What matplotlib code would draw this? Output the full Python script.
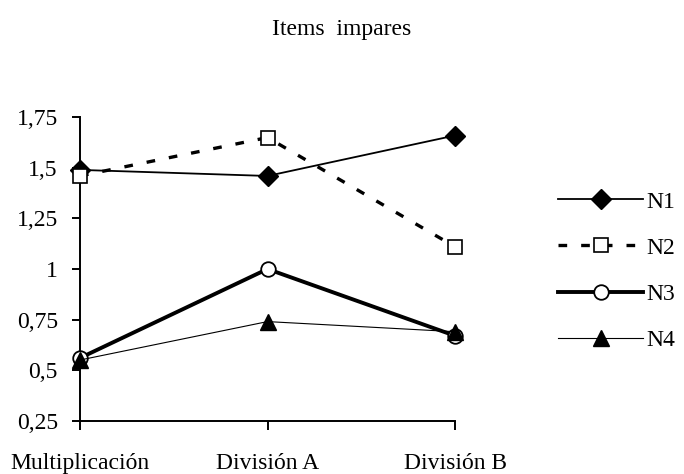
import matplotlib
matplotlib.use("Agg")
import matplotlib.pyplot as plt
from matplotlib.ticker import FuncFormatter

categories = ["Multiplicación", "División A", "División B"]
n1 = [1.49, 1.46, 1.66]
n2 = [1.46, 1.65, 1.11]
n3 = [0.56, 1.00, 0.67]
n4 = [0.55, 0.74, 0.69]
yticks = [0.25, 0.5, 0.75, 1.0, 1.25, 1.5, 1.75]

plt.rcParams['font.family'] = ['Liberation Serif', 'DejaVu Serif']

fig = plt.figure(figsize=(6.84, 4.74), dpi=100)
ax = fig.add_axes([80/684, 1-420.7/474, (455-80)/684, (420.7-117.3)/474])

x = list(range(len(categories)))
ax.plot(x, n1, color='black', lw=1.3, marker='D', ms=10.5, mfc='black', mec='black',
        label='N1', clip_on=False, zorder=3)
ax.plot(x, n2, color='black', lw=2.4, dashes=(2.6, 4.2), marker='s', ms=10,
        mfc='white', mec='black', mew=1.2, label='N2', clip_on=False, zorder=3)
ax.plot(x, n3, color='black', lw=2.8, marker='o', ms=10.5, mfc='white', mec='black',
        mew=1.3, label='N3', clip_on=False, zorder=3)
ax.plot(x, n4, color='black', lw=0.8, marker='^', ms=12, mfc='black', mec='black',
        label='N4', clip_on=False, zorder=4)

ax.set_xlim(0, 2)
ax.set_ylim(0.25, 1.75)
ax.set_yticks(yticks)
ax.yaxis.set_major_formatter(FuncFormatter(lambda v, p: ('%g' % v).replace('.', ',')))
ax.set_xticks(x)
ax.set_xticklabels(categories)
for s in ['top', 'right']:
    ax.spines[s].set_visible(False)
for s in ['left', 'bottom']:
    ax.spines[s].set_linewidth(1.4)
ax.tick_params(axis='y', direction='out', length=6, width=1.4, labelsize=17, pad=10)
ax.tick_params(axis='x', direction='out', length=6.5, width=1.4, labelsize=17, pad=17)

fig.text(0.5, 1-35/474, "Items  impares", ha='center', va='baseline', fontsize=17)

leg = fig.legend(loc='center left', bbox_to_anchor=(558/684, 1-271/474), frameon=False,
                 fontsize=17, handlelength=3.6, handletextpad=0.15, labelspacing=1.04,
                 borderaxespad=0, borderpad=0)

fig.savefig("out.png", dpi=100)
